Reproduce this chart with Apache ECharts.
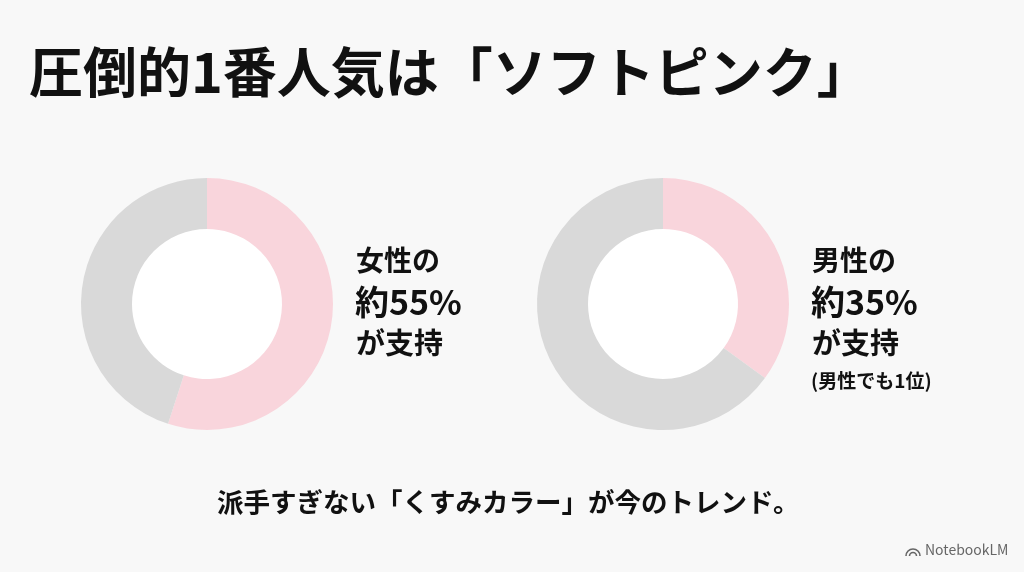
<!DOCTYPE html>
<html><head><meta charset="utf-8">
<script src="https://cdn.jsdelivr.net/npm/echarts@6/dist/echarts.min.js"></script>
<style>html,body{margin:0;padding:0;background:#f8f8f8}#c{width:1024px;height:572px}</style>
</head><body><div id="c"></div>
<script>
const categories = ['ソフトピンク', 'その他'];
const femaleValues = [55, 45];
const maleValues = [35, 65];
const titleText = '圧倒的1番人気は「ソフトピンク」';
const femaleLines = ['女性の', '約55%', 'が支持'];
const maleLines = ['男性の', '約35%', 'が支持', '(男性でも1位)'];
const footerText = '派手すぎない「くすみカラー」が今のトレンド。';
const colors = ['#f9d5dc', '#d9d9d9'];

const F = '"Noto Sans CJK JP", "Noto Sans", sans-serif';
const chart = echarts.init(document.getElementById('c'));
function pie(center, vals) {
  return {
    type: 'pie', center: center, radius: [75, 126], startAngle: 90, clockwise: true,
    silent: true, label: {show: false}, labelLine: {show: false},
    itemStyle: {borderWidth: 0},
    data: categories.map((c, i) => ({name: c, value: vals[i], itemStyle: {color: colors[i]}}))
  };
}
function txt(x, y, s, size, weight) {
  return {type: 'text', left: x, top: y, style: {text: s, font: weight + ' ' + size + 'px ' + F, fill: '#111'}};
}
chart.setOption({
  backgroundColor: '#f8f8f8',
  animation: false,
  series: [pie([207, 304], femaleValues), pie([663, 304], maleValues)],
  graphic: [
    {type: 'circle', shape: {cx: 207, cy: 304, r: 76}, style: {fill: '#ffffff'}, z: -1},
    {type: 'circle', shape: {cx: 663, cy: 304, r: 76}, style: {fill: '#ffffff'}, z: -1},
    txt(29, 45, titleText, 54, 'bold'),
    txt(356, 246, femaleLines[0], 28, 'bold'),
    txt(355, 285, femaleLines[1], 34, 'bold'),
    txt(356, 328, femaleLines[2], 29, 'bold'),
    txt(812, 246, maleLines[0], 28, 'bold'),
    txt(811, 285, maleLines[1], 34, 'bold'),
    txt(812, 328, maleLines[2], 29, 'bold'),
    txt(811, 371, maleLines[3], 19, 'bold'),
    txt(217, 489, footerText, 26.5, 'bold'),
    {type: 'arc', shape: {cx: 913, cy: 556, r: 7, startAngle: Math.PI, endAngle: 2 * Math.PI}, style: {stroke: '#666', lineWidth: 1.6, fill: null}},
    {type: 'arc', shape: {cx: 913, cy: 556, r: 3.5, startAngle: Math.PI, endAngle: 2 * Math.PI}, style: {stroke: '#666', lineWidth: 1.6, fill: null}},
    {type: 'text', left: 925, top: 543, style: {text: 'NotebookLM', font: '14px ' + F, fill: '#666'}}
  ]
});
</script></body></html>
